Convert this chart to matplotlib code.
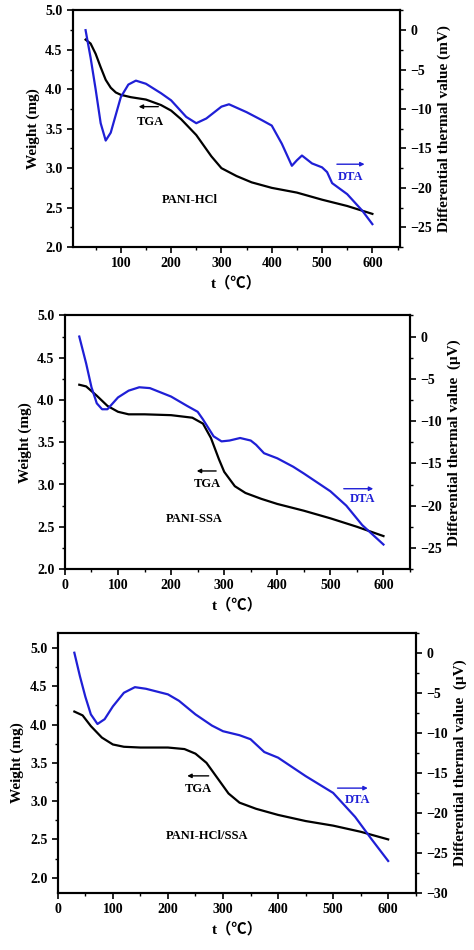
import matplotlib
matplotlib.use("Agg")
import matplotlib.pyplot as plt
from matplotlib.ticker import MultipleLocator

plt.rcParams["font.family"] = ["Liberation Serif", "Noto Sans CJK SC", "DejaVu Sans"]
plt.rcParams["font.weight"] = "bold"

BLUE = "#1f1fd6"

# --- PANI-HCl ---
hcl_tga_t = [30, 40, 50, 60, 70, 80, 90, 100, 120, 150, 180, 200, 220, 250, 280, 300, 330, 360, 400, 450, 500, 550, 600]
hcl_tga_w = [4.63, 4.58, 4.45, 4.28, 4.12, 4.02, 3.96, 3.93, 3.90, 3.87, 3.80, 3.73, 3.62, 3.42, 3.15, 3.00, 2.90, 2.82, 2.75, 2.69, 2.60, 2.52, 2.42]
hcl_dta_t = [30, 40, 50, 60, 70, 80, 100, 115, 130, 150, 180, 200, 230, 250, 270, 300, 315, 350, 380, 400, 420, 440, 450, 460, 480, 500, 510, 520, 550, 580, 600]
hcl_dta_v = [0, -3.5, -7.5, -11.8, -14.0, -13.0, -8.5, -6.9, -6.4, -6.8, -8.0, -8.9, -11.0, -11.8, -11.2, -9.7, -9.4, -10.4, -11.4, -12.1, -14.4, -17.2, -16.5, -15.9, -16.9, -17.4, -18.0, -19.4, -20.8, -22.9, -24.6]

# --- PANI-SSA ---
ssa_tga_t = [27, 40, 60, 80, 100, 120, 150, 200, 240, 260, 275, 290, 300, 320, 340, 370, 400, 450, 500, 550, 600]
ssa_tga_w = [4.18, 4.16, 4.05, 3.93, 3.86, 3.83, 3.83, 3.82, 3.79, 3.72, 3.55, 3.30, 3.15, 2.98, 2.90, 2.83, 2.77, 2.69, 2.60, 2.50, 2.39]
ssa_dta_t = [27, 40, 50, 60, 70, 80, 100, 120, 140, 160, 200, 230, 250, 260, 280, 295, 310, 330, 350, 360, 375, 400, 430, 450, 500, 530, 560, 600]
ssa_dta_v = [0, -3.2, -6.0, -7.9, -8.6, -8.6, -7.2, -6.4, -6.0, -6.1, -7.1, -8.2, -8.9, -9.8, -11.8, -12.4, -12.3, -12.0, -12.3, -12.8, -13.8, -14.4, -15.4, -16.2, -18.3, -20.0, -22.3, -24.6]

# --- PANI-HCl/SSA ---
mix_tga_t = [30, 45, 60, 80, 100, 120, 150, 200, 230, 250, 270, 290, 310, 330, 360, 400, 450, 500, 550, 600]
mix_tga_w = [4.17, 4.12, 3.98, 3.83, 3.74, 3.71, 3.70, 3.70, 3.68, 3.62, 3.50, 3.30, 3.10, 2.98, 2.90, 2.82, 2.74, 2.68, 2.60, 2.50]
mix_dta_t = [30, 40, 50, 60, 72, 85, 100, 120, 140, 160, 200, 220, 250, 280, 300, 330, 350, 375, 400, 450, 500, 540, 570, 600]
mix_dta_v = [0, -2.9, -5.5, -7.7, -8.9, -8.3, -6.7, -5.0, -4.3, -4.5, -5.2, -6.0, -7.7, -9.1, -9.8, -10.3, -10.8, -12.4, -13.1, -15.4, -17.5, -20.5, -23.3, -26.0]

panels = [
    dict(rect=[0.154, 0.740, 0.690, 0.249], xlim=(5, 655), xticks=[100, 200, 300, 400, 500, 600],
         ylim=(2.0, 5.0), y2lim=(-27.5, 2.5), y2label="Differential thermal value (mV)",
         tga=(hcl_tga_t, hcl_tga_w), dta=(hcl_dta_t, hcl_dta_v), name="PANI-HCl", name_xy=(237, 2.6),
         tga_arrow=(180, 130, 3.78), tga_txt=(159, 3.58), dta_arrow=(524, 590, 3.05), dta_txt=(557, 2.89)),
    dict(rect=[0.137, 0.401, 0.728, 0.267], xlim=(0, 650), xticks=[0, 100, 200, 300, 400, 500, 600],
         ylim=(2.0, 5.0), y2lim=(-27.5, 2.5), y2label="Differential thermal value  (\u03bcV)",
         tga=(ssa_tga_t, ssa_tga_w), dta=(ssa_dta_t, ssa_dta_v), name="PANI-SSA", name_xy=(243, 2.59),
         tga_arrow=(290, 243, 3.16), tga_txt=(268, 3.01), dta_arrow=(520, 586, 2.95), dta_txt=(560, 2.83)),
    dict(rect=[0.122, 0.060, 0.755, 0.274], xlim=(0, 650), xticks=[0, 100, 200, 300, 400, 500, 600],
         ylim=(1.8, 5.2), y2lim=(-30, 2.5), y2label="Differential thermal value  (\u03bcV)",
         tga=(mix_tga_t, mix_tga_w), dta=(mix_dta_t, mix_dta_v), name="PANI-HCl/SSA", name_xy=(271, 2.54),
         tga_arrow=(279, 230, 3.33), tga_txt=(256, 3.16), dta_arrow=(503, 568, 3.17), dta_txt=(544, 3.02)),
]

fig = plt.figure(figsize=(4.74, 9.5), dpi=100)

for p in panels:
    ax = fig.add_axes(p["rect"])
    ax2 = ax.twinx()
    ax.plot(*p["tga"], color="black", lw=1.6)
    ax2.plot(*p["dta"], color=BLUE, lw=1.6)
    ax.set_xlim(*p["xlim"])
    ax.set_ylim(*p["ylim"])
    ax2.set_ylim(*p["y2lim"])
    ax.set_xticks(p["xticks"])
    ax.xaxis.set_minor_locator(MultipleLocator(50))
    ax.set_yticks([2.0, 2.5, 3.0, 3.5, 4.0, 4.5, 5.0])
    ax.yaxis.set_minor_locator(MultipleLocator(0.25))
    ax2.set_yticks(list(range(int(p["y2lim"][0]) + (0 if p["y2lim"][0] == -30 else 0), 1, 5))[::-1] if False else
                   [v for v in range(0, -31, -5) if v >= p["y2lim"][0]])
    ax2.yaxis.set_minor_locator(MultipleLocator(2.5))
    ax.yaxis.set_major_formatter(matplotlib.ticker.FormatStrFormatter("%.1f"))
    for a in (ax, ax2):
        a.tick_params(which="major", length=4, width=1.2, labelsize=10)
        a.tick_params(which="minor", length=2, width=1)
        for s in a.spines.values():
            s.set_linewidth(1.5)
    ax.set_xlabel("t\uff08\u2103\uff09", fontsize=11, fontweight="bold")
    ax.set_ylabel("Weight (mg)", fontsize=11, fontweight="bold")
    ax2.set_ylabel(p["y2label"], fontsize=11, fontweight="bold")
    x0, x1, ya = p["tga_arrow"]
    ax.annotate("", xy=(x1, ya), xytext=(x0, ya),
                arrowprops=dict(arrowstyle="-|>", color="black", lw=1, mutation_scale=6))
    ax.text(*p["tga_txt"], "TGA", ha="center", va="center", fontsize=9, fontweight="bold")
    x0, x1, ya = p["dta_arrow"]
    ax.annotate("", xy=(x1, ya), xytext=(x0, ya),
                arrowprops=dict(arrowstyle="-|>", color=BLUE, lw=1, mutation_scale=6))
    ax.text(*p["dta_txt"], "DTA", ha="center", va="center", fontsize=9, fontweight="bold", color=BLUE)
    ax.text(*p["name_xy"], p["name"], ha="center", va="center", fontsize=9, fontweight="bold")

fig.savefig("out.png", dpi=100)
